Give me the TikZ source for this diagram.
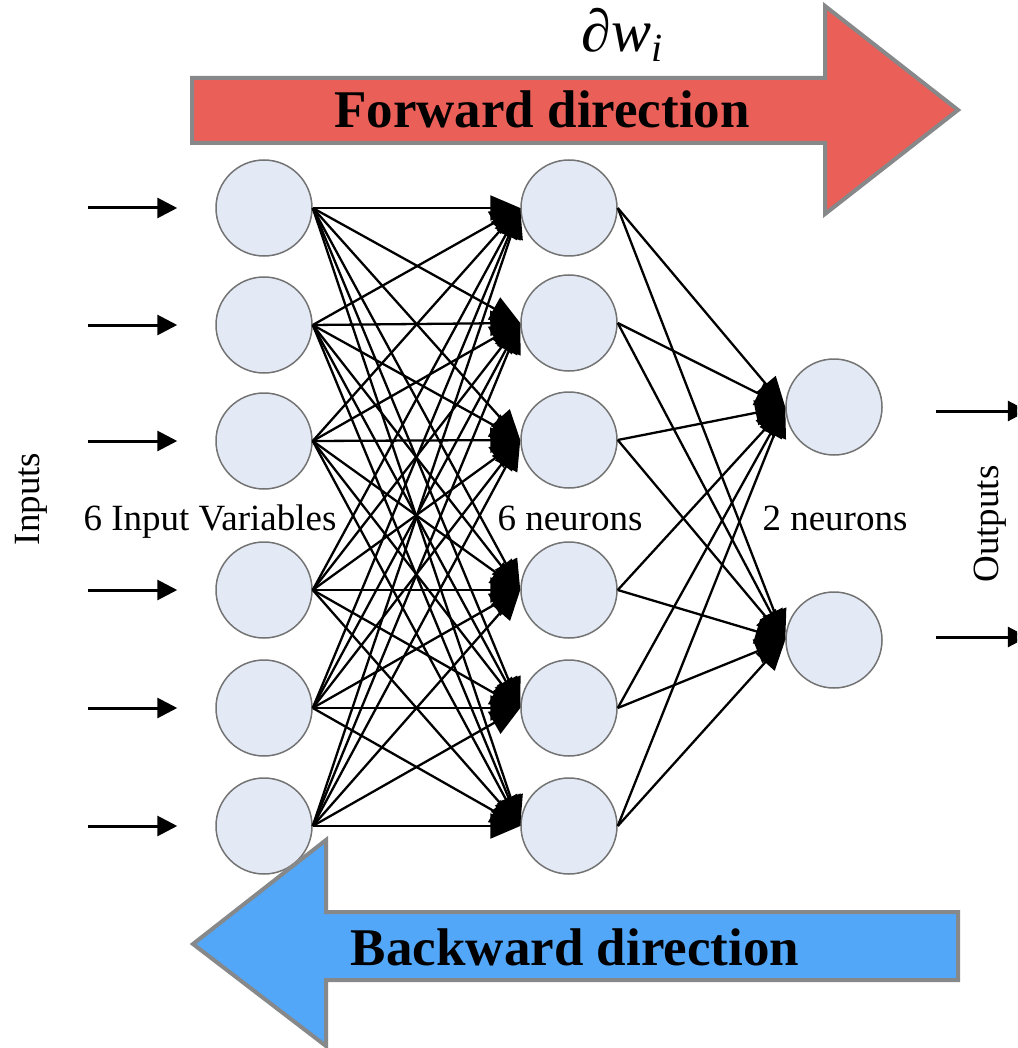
\documentclass[tikz,border=0pt]{standalone}
\usepackage{fontspec}
\setmainfont{Liberation Serif}
\usetikzlibrary{arrows.meta}
\definecolor{neuron-fill}{HTML}{E4EAF5}
\definecolor{neuron-edge}{gray}{0.45}
\definecolor{forward-red}{HTML}{EA5F58}
\definecolor{backward-blue}{HTML}{52A7F8}
\definecolor{arrow-edge}{HTML}{86888A}
\tikzstyle{neuron}=[circle,draw=neuron-edge,fill=neuron-fill,line width=1.5pt,minimum size=96pt,inner sep=0pt]
\tikzstyle{synapse}=[line width=2.3pt,-{Triangle[length=30pt,width=25pt]}]
\tikzstyle{signal}=[line width=3pt,-{Triangle[length=20pt,width=20pt]}]
\tikzstyle{bigarrow}=[draw=arrow-edge,line width=4pt,line join=miter]
\tikzstyle{layerlabel}=[inner sep=0pt,font=\fontsize{37}{40}\selectfont]
\tikzstyle{arrowlabel}=[inner sep=0pt,font=\fontsize{53}{60}\selectfont\bfseries]
\begin{document}
\begin{tikzpicture}[x=1pt,y=-1pt]
	\useasboundingbox (0,0) rectangle (1017,1048);
	\clip (0,0) rectangle (1017,1048);
	% layers
	\foreach \i/\y in {1/208,2/325,3/441,4/590,5/708,6/826} {
		\node[neuron] (in\i) at (264,\y) {};
		\coordinate (x\i) at (88,\y);
		\draw[signal] (x\i) -- ([xshift=-38pt]in\i.west);
	}
	\foreach \i/\y in {1/208,2/323,3/440,4/590,5/708,6/826} {
		\node[neuron] (hid\i) at (569,\y) {};
	}
	\node[neuron] (out1) at (834,407) {};
	\node[neuron] (out2) at (834,640) {};
	% weights
	\foreach \i in {1,...,6} {
		\foreach \j in {1,...,6} {
			\draw[synapse] (in\i.east) -- (hid\j.west);
		}
		\foreach \j in {1,2} {
			\draw[synapse] (hid\i.east) -- (out\j.west);
		}
	}
	\draw[signal] ([shift={(53,4)}]out1.east) -- ++(92,0);
	\draw[signal] ([shift={(53,-3)}]out2.east) -- ++(92,0);
	% labels
	\node[layerlabel,rotate=90] (inputs) at (31,499) {Inputs};
	\node[layerlabel,rotate=90] (outputs) at (990,524) {Outputs};
	\node[layerlabel,anchor=base] (lab-in) at (210,530) {6 Input Variables};
	\node[layerlabel,anchor=base] (lab-hid) at (570,530) {6 neurons};
	\node[layerlabel,anchor=base] (lab-out) at (835,530) {2 neurons};
	% direction arrows
	\draw[bigarrow,fill=forward-red] (192,78) -- (825,78) -- (825,6) -- (958,110)
		-- (825,214) -- (825,143) -- (192,143) -- cycle;
	\draw[bigarrow,fill=backward-blue] (958,912) -- (326,912) -- (326,840) -- (193,944)
		-- (326,1046) -- (326,980) -- (958,980) -- cycle;
	\node[arrowlabel,anchor=base] (fwd) at (542,128) {Forward direction};
	\node[arrowlabel,anchor=base] (bwd) at (575,965) {Backward direction};
	\node[inner sep=0pt,anchor=base] (dw) at (622,52)
		{\fontsize{60}{60}\selectfont\itshape ∂w\raisebox{-10pt}{\fontsize{40}{40}\selectfont i}};
\end{tikzpicture}
\end{document}
